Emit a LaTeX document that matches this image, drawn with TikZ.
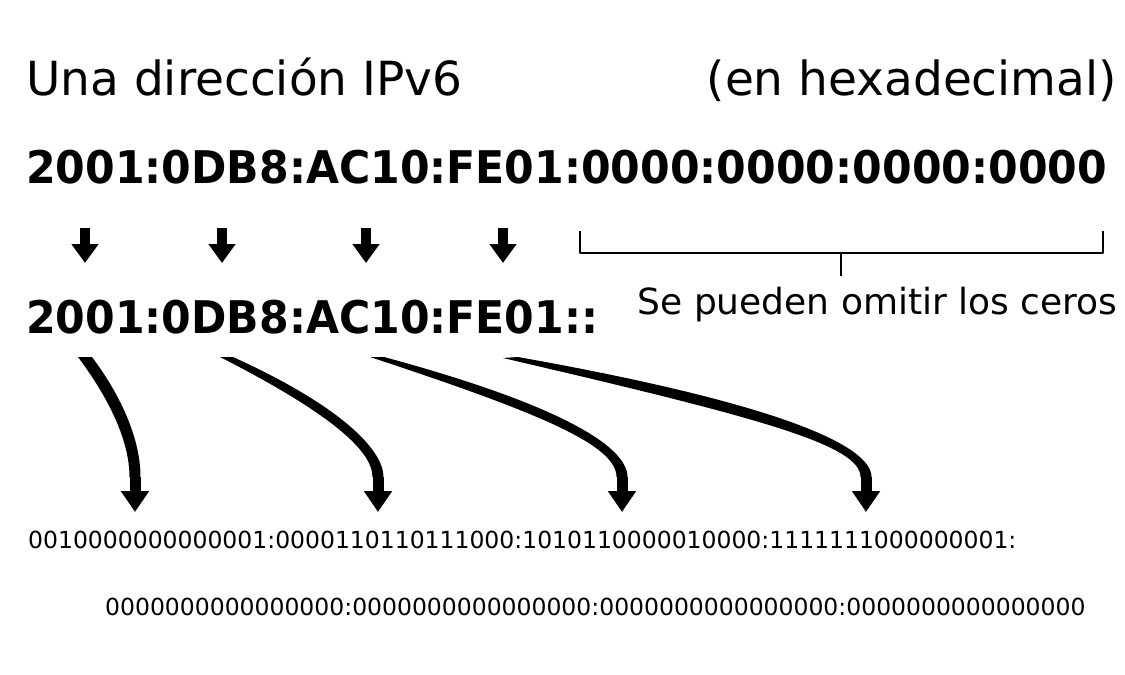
\documentclass[tikz,border=0pt]{standalone}
\usepackage{fontspec}
\setmainfont{DejaVu Sans}
\newfontfamily\hexfont[FakeStretch=0.947]{DejaVu Sans Bold}
\usetikzlibrary{arrows.meta}
\tikzset{
  txt/.style={inner sep=0pt,anchor=base west},
  hexa/.style={txt,font=\hexfont\fontsize{45}{47}\selectfont},
  bits/.style={txt,font=\fontsize{23.5}{25}\selectfont},
  smallarrow/.style={line width=10pt,-{Triangle[width=26pt,length=19pt]}},
  stemarrow/.style={line width=11pt,-{Triangle[width=27pt,length=21pt]}},
  bracket/.style={line width=2pt,line cap=rect}
}
\begin{document}
\begin{tikzpicture}[x=1pt,y=-1pt,line join=round]
			\useasboundingbox (0,0) rectangle (1125,675);
			% titulo
			\node[txt,font=\fontsize{47}{49}\selectfont] (tit) at (26,95) {Una dirección IPv6};
			\node[txt,anchor=base east,font=\fontsize{47}{49}\selectfont] (hex) at (1117,95) {(en hexadecimal)};
			\node[hexa] (full) at (26,183) {2001:0DB8:AC10:FE01:0000:0000:0000:0000};
			\node[hexa] (short) at (26,333) {2001:0DB8:AC10:FE01::};
			\node[txt,font=\fontsize{36}{38}\selectfont] (omit) at (637.5,314) {Se pueden omitir los ceros};
			\node[bits] (bin1) at (28,548) {0010000000000001:0000110110111000:1010110000010000:1111111000000001:};
			\node[bits] (bin2) at (105,615) {0000000000000000:0000000000000000:0000000000000000:0000000000000000};
			% flechas cortas
			\foreach \x in {85,222,366,503}{
			\path (\x,228) coordinate (a\x) (\x,263) coordinate (z\x);
			\draw[smallarrow] (a\x) -- (z\x);
			}
			% llave de los ceros
			\path
			(580,232) coordinate (l1)
			(580,253) coordinate (l2)
			(1103,253) coordinate (r2)
			(1103,232) coordinate (r1)
			(841,253) coordinate (m1)
			(841,276) coordinate (m2)
			;
			\draw[bracket] (l1)--(l2)--(r2)--(r1);
			\draw[bracket,line cap=butt] (m1)--(m2);
			% flechas curvas
			\path
			(78,357) coordinate (sl1) (92,357) coordinate (sr1) (135,477) coordinate (b1) (135,512) coordinate (t1)
			(220,357) coordinate (sl2) (233,357) coordinate (sr2) (378,477) coordinate (b2) (378,512) coordinate (t2)
			(370,357) coordinate (sl3) (384,357) coordinate (sr3) (622,477) coordinate (b3) (622,512) coordinate (t3)
			(503,358) coordinate (sl4) (518,357) coordinate (sr4) (866,477) coordinate (b4) (866,512) coordinate (t4)
			;
			\foreach \i/\cx/\cy/\h/\d in {1/30/40/37/0,2/108/55/27/6,3/170/56/32/10,4/258/60/32/14}{
			\fill (sl\i) .. controls +(\cx,\cy) and +(0,-\h) .. ([xshift=-5.5pt]b\i)
			-- ([xshift=5.5pt]b\i) .. controls +(0,-\h) and +(\cx,\cy-\d) .. (sr\i) -- cycle;
			\draw[stemarrow] (b\i) -- (t\i);
			}
\end{tikzpicture}
\end{document}
